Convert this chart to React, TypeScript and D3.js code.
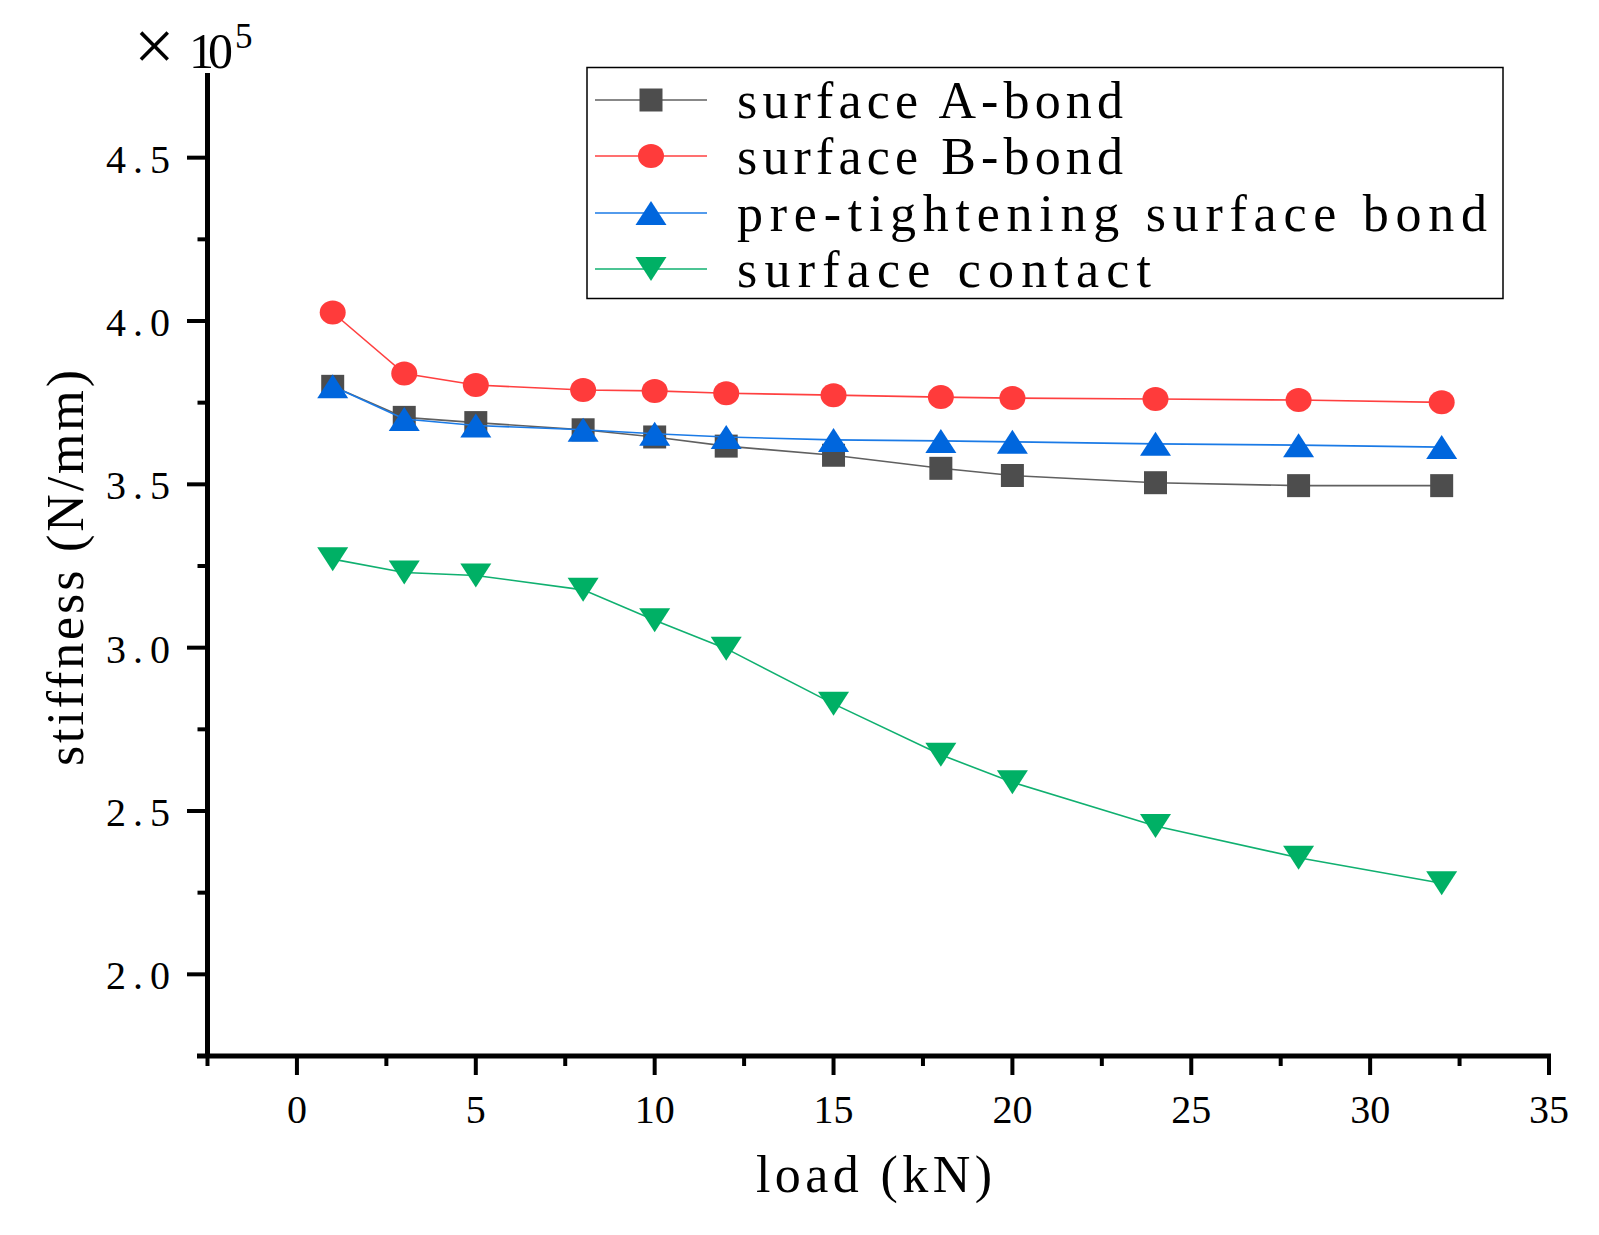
import React from "react";
import * as d3 from "d3";

const LOADS = [1, 3, 5, 8, 10, 12, 15, 18, 20, 24, 28, 32];
const SURFACE_A_BOND = [3.8, 3.705, 3.689, 3.667, 3.645, 3.617, 3.589, 3.549, 3.527, 3.505, 3.496, 3.496];
const SURFACE_B_BOND = [4.026, 3.839, 3.804, 3.789, 3.786, 3.779, 3.773, 3.767, 3.764, 3.761, 3.758, 3.751];
const PRE_TIGHTENING = [3.8, 3.7, 3.68, 3.667, 3.655, 3.645, 3.636, 3.633, 3.63, 3.624, 3.62, 3.614];
const SURFACE_CONTACT = [3.271, 3.23, 3.221, 3.177, 3.084, 2.997, 2.828, 2.672, 2.588, 2.454, 2.357, 2.279];

const SERIES_NAMES = ["surface A-bond", "surface B-bond", "pre-tightening surface bond", "surface contact"];
const SERIES_VALUES = [SURFACE_A_BOND, SURFACE_B_BOND, PRE_TIGHTENING, SURFACE_CONTACT];
const SERIES_LINE_COLORS = ["#606060", "#ff4040", "#1a7ae6", "#10b070"];
const SERIES_MARK_COLORS = ["#4d4d4d", "#ff3b3b", "#0066dd", "#00b065"];
const SERIES_SHAPES = ["square", "circle", "up", "down"];

const X_MAJOR = [0, 5, 10, 15, 20, 25, 30, 35];
const X_MINOR = [-2.5, 2.5, 7.5, 12.5, 17.5, 22.5, 27.5, 32.5];
const Y_MAJOR = [2.0, 2.5, 3.0, 3.5, 4.0, 4.5];
const Y_MINOR = [2.25, 2.75, 3.25, 3.75, 4.25];

const FONT = '"Liberation Serif", "Times New Roman", serif';

function markerPath(shape: string, cx: number, cy: number): string {
  if (shape === "square") {
    const h = 11.5;
    return `M${cx - h},${cy - h}H${cx + h}V${cy + h}H${cx - h}Z`;
  }
  if (shape === "up") {
    const w = 15.5, h = 12;
    return `M${cx},${cy - h}L${cx + w},${cy + h}L${cx - w},${cy + h}Z`;
  }
  if (shape === "down") {
    const w = 15.5, h = 12;
    return `M${cx - w},${cy - h}L${cx + w},${cy - h}L${cx},${cy + h}Z`;
  }
  return "";
}

function Marker({ shape, cx, cy, color }: { shape: string; cx: number; cy: number; color: string }) {
  if (shape === "circle") return <ellipse cx={cx} cy={cy} rx={13} ry={12} fill={color} />;
  return <path d={markerPath(shape, cx, cy)} fill={color} />;
}

export default function App() {
  const W = 1599, H = 1235;
  const x = d3.scaleLinear().domain([-2.5, 35]).range([207.5, 1549]);
  const y = d3.scaleLinear().domain([1.75, 4.75]).range([1056, 76]);
  const line = d3
    .line<number>()
    .x((_, i) => x(LOADS[i]))
    .y((v) => y(v));
  const fmt = d3.format(".1f");

  const legendRows = [100, 156, 213, 269];

  return (
    <svg
      width={W}
      height={H}
      style={{ position: "absolute", left: 0, top: 0, background: "#fff" }}
      fontFamily={FONT}
    >
      <rect x={0} y={0} width={W} height={H} fill="#fff" />

      {/* series */}
      {SERIES_VALUES.map((vals, si) => (
        <g key={si}>
          <path d={line(vals) || ""} fill="none" stroke={SERIES_LINE_COLORS[si]} strokeWidth={1.6} />
          {vals.map((v, i) => (
            <Marker key={i} shape={SERIES_SHAPES[si]} cx={x(LOADS[i])} cy={y(v)} color={SERIES_MARK_COLORS[si]} />
          ))}
        </g>
      ))}

      {/* axes */}
      <line x1={207.5} x2={207.5} y1={73} y2={1058} stroke="#000" strokeWidth={5} />
      <line x1={197} x2={1551} y1={1056} y2={1056} stroke="#000" strokeWidth={5} />

      {Y_MAJOR.map((t) => (
        <g key={"ym" + t}>
          <line x1={187} x2={207.5} y1={y(t)} y2={y(t)} stroke="#000" strokeWidth={4} />
          <text
            x={170}
            y={y(t) + 15}
            fontSize={40}
            textAnchor="end"
            textLength={64}
            lengthAdjust="spacing"
            fill="#000"
          >
            {fmt(t)}
          </text>
        </g>
      ))}
      {Y_MINOR.map((t) => (
        <line key={"yn" + t} x1={197.5} x2={207.5} y1={y(t)} y2={y(t)} stroke="#000" strokeWidth={4} />
      ))}

      {X_MAJOR.map((t) => (
        <g key={"xm" + t}>
          <line x1={x(t)} x2={x(t)} y1={1056} y2={1075} stroke="#000" strokeWidth={4} />
          <text x={x(t)} y={1123} fontSize={40} textAnchor="middle" fill="#000">
            {String(t)}
          </text>
        </g>
      ))}
      {X_MINOR.map((t) => (
        <line key={"xn" + t} x1={x(t)} x2={x(t)} y1={1056} y2={1066} stroke="#000" strokeWidth={4} />
      ))}

      {/* axis titles */}
      <text
        x={874}
        y={1192}
        fontSize={52}
        textAnchor="middle"
        textLength={236}
        lengthAdjust="spacing"
        fill="#000"
      >
        load (kN)
      </text>
      <text
        transform={`translate(83,568) rotate(-90)`}
        x={0}
        y={0}
        fontSize={52}
        textAnchor="middle"
        textLength={396}
        lengthAdjust="spacing"
        fill="#000"
      >
        stiffness (N/mm)
      </text>

      {/* multiplier */}
      <text x={134} y={70} fontSize={72} fill="#000">
        ×
      </text>
      <text x={189} y={68} fontSize={50} textLength={44} lengthAdjust="spacing" fill="#000">
        10
      </text>
      <text x={235} y={48} fontSize={35} fill="#000">
        5
      </text>

      {/* legend */}
      <rect x={587} y={67.5} width={916} height={231} fill="#fff" stroke="#000" strokeWidth={1.5} />
      {SERIES_NAMES.map((name, si) => (
        <g key={"lg" + si}>
          <line x1={595} x2={707} y1={legendRows[si]} y2={legendRows[si]} stroke={SERIES_LINE_COLORS[si]} strokeWidth={1.6} />
          <Marker shape={SERIES_SHAPES[si]} cx={651} cy={legendRows[si]} color={SERIES_MARK_COLORS[si]} />
          <text
            x={737}
            y={legendRows[si] + 18}
            fontSize={52}
            textLength={name.length * 28 - 6}
            lengthAdjust="spacing"
            fill="#000"
          >
            {name}
          </text>
        </g>
      ))}
    </svg>
  );
}
